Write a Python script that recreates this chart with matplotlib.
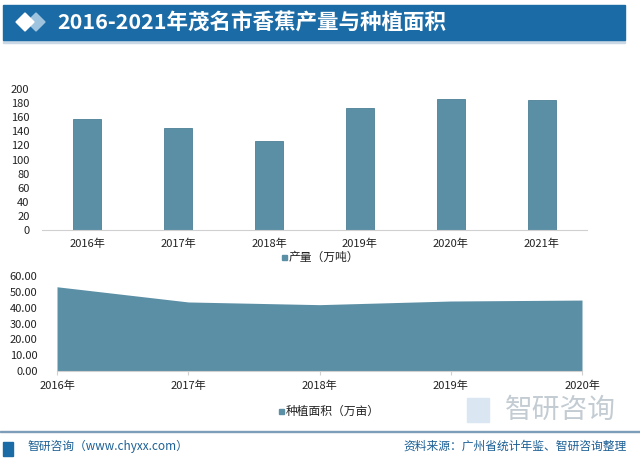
import matplotlib
matplotlib.use("Agg")
import matplotlib.pyplot as plt
from matplotlib.patches import Rectangle, Polygon

plt.rcParams['font.family'] = ['Noto Sans CJK SC', 'DejaVu Sans']

# data
bar_years = ['2016年', '2017年', '2018年', '2019年', '2020年', '2021年']
output_vals = [157, 144, 126, 173.5, 186, 184.5]   # 产量（万吨）
area_years = ['2016年', '2017年', '2018年', '2019年', '2020年']
area_vals = [53.2, 43.6, 41.9, 44.2, 44.8]          # 种植面积（万亩）

W, H = 640, 458
bar_color = '#5b8fa6'
fig = plt.figure(figsize=(W / 100, H / 100), dpi=100)
fig.patch.set_facecolor('white')


def box(x0, y0, x1, y1):
    # pixel box (top-left origin) -> figure fraction
    return [x0 / W, 1 - y1 / H, (x1 - x0) / W, (y1 - y0) / H]


def square(px, py, size, col):
    fig.add_artist(Rectangle(((px) / W, 1 - (py + size / 2) / H), size / W, size / H,
                             transform=fig.transFigure, color=col, zorder=2))


# title bar
fig.patches.append(Rectangle((3 / W, 1 - 40 / H), 622 / W, 35 / H,
                             transform=fig.transFigure, color='#1b6ba6', zorder=0))
fig.add_artist(Rectangle((3 / W, 1 - 43 / H), 622 / W, 1.5 / H,
                         transform=fig.transFigure, color='#c9d8e4', zorder=0))
for cx, col in [(36, '#9ec3de'), (25, 'white')]:
    pts = [((cx - 9) / W, 1 - 22 / H), (cx / W, 1 - 13 / H),
           ((cx + 9) / W, 1 - 22 / H), (cx / W, 1 - 31 / H)]
    fig.add_artist(Polygon(pts, closed=True, transform=fig.transFigure,
                           color=col, zorder=1))
fig.text(57 / W, 1 - 23 / H, '2016-2021年茂名市香蕉产量与种植面积',
         color='white', fontsize=15.5, fontweight='bold', va='center', ha='left')

# top: bar chart
ax1 = fig.add_axes(box(42, 89, 587, 230))
x = range(len(bar_years))
ax1.bar(x, output_vals, width=0.31, color=bar_color, edgecolor='#4d7f96', linewidth=0.6)
ax1.set_xlim(-0.5, len(bar_years) - 0.5)
ax1.set_ylim(0, 200)
ax1.set_yticks(range(0, 201, 20))
ax1.set_xticks(list(x))
ax1.set_xticklabels(bar_years)
ax1.tick_params(axis='both', length=0, labelsize=8, colors='#222222')
ax1.tick_params(axis='x', pad=6)
ax1.tick_params(axis='y', pad=9)
for s in ['top', 'right', 'left']:
    ax1.spines[s].set_visible(False)
ax1.spines['bottom'].set_color('#d0d0d0')
square(282, 257, 5, bar_color)
fig.text(289 / W, 1 - 257 / H, '产量（万吨）', color='#222222', fontsize=8.5,
         va='center', ha='left')

# bottom: area chart
ax2 = fig.add_axes(box(57, 276, 582, 371))
xa = range(len(area_years))
ax2.fill_between(xa, area_vals, 0, color=bar_color, linewidth=0)
ax2.set_xlim(0, len(area_years) - 1)
ax2.set_ylim(0, 60)
ax2.set_yticks(range(0, 61, 10))
ax2.set_yticklabels(['%.2f' % v for v in range(0, 61, 10)])
ax2.set_xticks(list(xa))
ax2.set_xticklabels(area_years)
ax2.tick_params(axis='y', length=0, labelsize=8, colors='#222222', pad=14)
ax2.tick_params(axis='x', length=3, color='#d0d0d0', labelsize=8, colors='#222222', pad=4)
for s in ['top', 'right', 'left']:
    ax2.spines[s].set_visible(False)
ax2.spines['bottom'].set_color('#d0d0d0')
square(279, 411, 5, bar_color)
fig.text(286 / W, 1 - 411 / H, '种植面积（万亩）', color='#222222', fontsize=8.5,
         va='center', ha='left')

# watermark logo bottom right
fig.text(560 / W, 1 - 410 / H, '智研咨询', color='#b5c0c8', fontsize=20,
         va='center', ha='center', alpha=0.8)
fig.add_artist(Rectangle((467 / W, 1 - 422 / H), 22 / W, 24 / H,
                         transform=fig.transFigure, color='#dae7f2', zorder=0))

# footer
fig.add_artist(Rectangle((0, 1 - 432 / H), 1, 1.5 / H,
                         transform=fig.transFigure, color='#7d9db8', zorder=1))
fig.add_artist(Rectangle((3 / W, 1 - 456 / H), 10 / W, 14 / H,
                         transform=fig.transFigure, color='#1b6ba6', zorder=1))
fig.text(27 / W, 1 - 446 / H, '智研咨询（www.chyxx.com）', color='#1b5f95',
         fontsize=8.5, va='center', ha='left')
fig.text(627 / W, 1 - 446 / H, '资料来源：广州省统计年鉴、智研咨询整理', color='#1b5f95',
         fontsize=8.5, va='center', ha='right')

fig.savefig('out.png', dpi=100)
